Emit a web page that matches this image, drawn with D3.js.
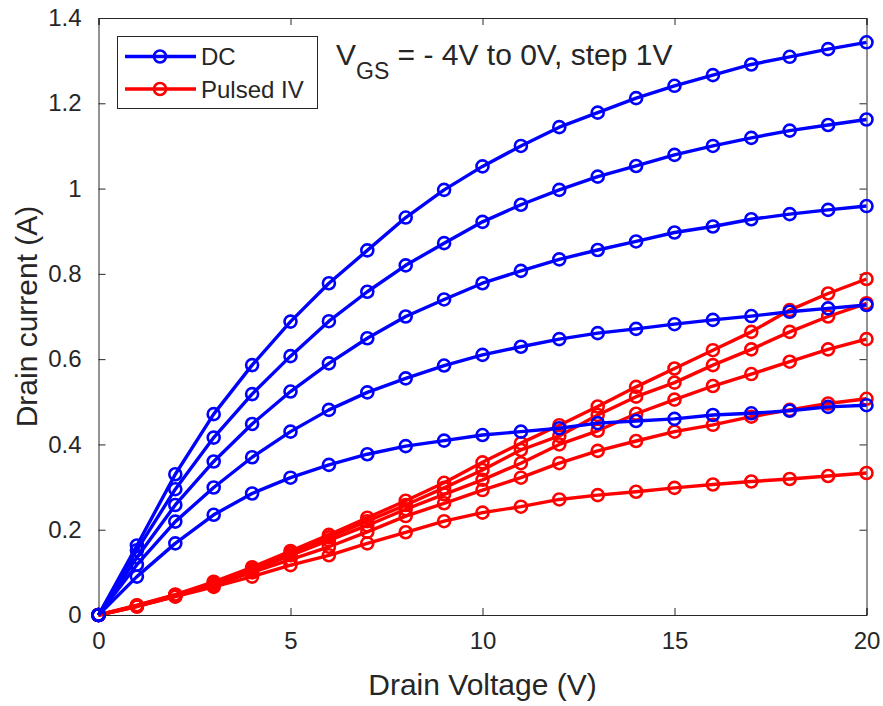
<!DOCTYPE html>
<html>
<head>
<meta charset="utf-8">
<script src="https://cdn.jsdelivr.net/npm/d3@7"></script>
<style>
  html, body { margin: 0; padding: 0; background: #fff; }
  svg { display: block; font-family: "Liberation Sans", Arial, Helvetica, sans-serif; }
</style>
</head>
<body>
<svg id="chart" width="883" height="706"></svg>
<script>
// ---- data ----
const drainVoltage = [0,1,2,3,4,5,6,7,8,9,10,11,12,13,14,15,16,17,18,19,20];

const dcVgs0  = [0,0.163,0.330,0.471,0.586,0.688,0.778,0.855,0.932,0.997,1.052,1.100,1.144,1.178,1.212,1.241,1.266,1.291,1.309,1.327,1.343];
const dcVgsM1 = [0,0.152,0.295,0.416,0.518,0.607,0.689,0.758,0.820,0.872,0.922,0.962,0.997,1.028,1.053,1.079,1.100,1.119,1.136,1.149,1.162];
const dcVgsM2 = [0,0.135,0.258,0.360,0.448,0.524,0.590,0.649,0.700,0.740,0.778,0.807,0.834,0.856,0.876,0.897,0.911,0.928,0.940,0.950,0.959];
const dcVgsM3 = [0,0.118,0.219,0.299,0.370,0.430,0.481,0.522,0.555,0.585,0.610,0.629,0.647,0.661,0.671,0.682,0.692,0.701,0.711,0.719,0.727];
const dcVgsM4 = [0,0.090,0.168,0.235,0.285,0.322,0.352,0.377,0.396,0.409,0.422,0.430,0.438,0.450,0.455,0.460,0.469,0.473,0.479,0.488,0.492];

const pulsedA = [0,0.023,0.048,0.078,0.112,0.150,0.188,0.228,0.268,0.310,0.358,0.403,0.445,0.489,0.535,0.578,0.621,0.664,0.715,0.754,0.788];
const pulsedB = [0,0.022,0.047,0.075,0.108,0.145,0.182,0.220,0.258,0.298,0.340,0.387,0.420,0.469,0.512,0.545,0.586,0.623,0.664,0.700,0.731];
const pulsedC = [0,0.021,0.045,0.072,0.104,0.140,0.175,0.210,0.248,0.283,0.317,0.356,0.400,0.432,0.472,0.505,0.537,0.565,0.594,0.623,0.647];
const pulsedD = [0,0.020,0.044,0.070,0.100,0.130,0.160,0.195,0.232,0.262,0.293,0.322,0.356,0.385,0.408,0.430,0.446,0.465,0.481,0.496,0.507];
const pulsedE = [0,0.020,0.043,0.066,0.090,0.117,0.140,0.168,0.194,0.220,0.240,0.254,0.271,0.281,0.289,0.298,0.306,0.313,0.319,0.326,0.333];

const dcSeries = [dcVgs0, dcVgsM1, dcVgsM2, dcVgsM3, dcVgsM4];
const pulsedSeries = [pulsedA, pulsedB, pulsedC, pulsedD, pulsedE];

const xTicks = [0,5,10,15,20];
const yTicks = [0,0.2,0.4,0.6,0.8,1,1.2,1.4];
const legendLabels = ["DC", "Pulsed IV"];
const xLabel = "Drain Voltage (V)";
const yLabel = "Drain current (A)";

// ---- layout ----
const L = 98.5, R = 866.5, T = 18, B = 615;
const axisColor = "#262626";
const blue = "#0000ff", red = "#ff0000";

const svg = d3.select("#chart");
const x = d3.scaleLinear().domain([0,20]).range([L,R]);
const y = d3.scaleLinear().domain([0,1.4]).range([B,T]);

// axes (MATLAB style box, inward ticks)
const tickLen = 7;
const fmtY = d => d === 0 ? "0" : (Number.isInteger(d) ? String(d) : d.toFixed(1));

const gx = svg.append("g").attr("transform", `translate(0,${B})`)
  .call(d3.axisBottom(x).tickValues(xTicks).tickSize(-tickLen).tickPadding(10 + tickLen).tickFormat(d3.format("d")));
const gxt = svg.append("g").attr("transform", `translate(0,${T})`)
  .call(d3.axisTop(x).tickValues(xTicks).tickSize(-tickLen).tickFormat(""));
const gy = svg.append("g").attr("transform", `translate(${L},0)`)
  .call(d3.axisLeft(y).tickValues(yTicks).tickSize(-tickLen).tickPadding(10 + tickLen).tickFormat(fmtY));
const gyr = svg.append("g").attr("transform", `translate(${R},0)`)
  .call(d3.axisRight(y).tickValues(yTicks).tickSize(-tickLen).tickFormat(""));

[gx, gxt, gy, gyr].forEach(g => {
  g.selectAll(".domain").attr("stroke", axisColor).attr("stroke-width", 1);
  g.selectAll(".tick line").attr("stroke", axisColor).attr("stroke-width", 1);
  g.selectAll(".tick text").attr("fill", axisColor)
    .style("font-family", '"Liberation Sans", Arial, sans-serif').style("font-size", "24px");
});

// axis labels
svg.append("text").attr("x", (L+R)/2).attr("y", 695).attr("text-anchor", "middle")
  .attr("fill", axisColor).style("font-size", "30px").text(xLabel);
svg.append("text").attr("transform", `translate(37,${(T+B)/2}) rotate(-90)`).attr("text-anchor", "middle")
  .attr("fill", axisColor).style("font-size", "30px").text(yLabel);

// series
const line = d3.line().x((d,i) => x(drainVoltage[i])).y(d => y(d));
const plotG = svg.append("g");

function drawSeries(data, color) {
  const g = plotG.append("g");
  g.append("path").datum(data).attr("d", line).attr("fill", "none")
    .attr("stroke", color).attr("stroke-width", 3.4).attr("stroke-linejoin", "round");
  g.selectAll("circle").data(data).join("circle")
    .attr("cx", (d,i) => x(drainVoltage[i])).attr("cy", d => y(d)).attr("r", 6)
    .attr("fill", "none").attr("stroke", color).attr("stroke-width", 2.6);
}
pulsedSeries.forEach(s => drawSeries(s, red));
dcSeries.forEach(s => drawSeries(s, blue));

// legend
const lg = svg.append("g");
lg.append("rect").attr("x", 117.5).attr("y", 36.5).attr("width", 200).attr("height", 72)
  .attr("fill", "#fff").attr("stroke", axisColor).attr("stroke-width", 1);
[[legendLabels[0], blue, 56.5], [legendLabels[1], red, 89]].forEach(([lab, col, yy]) => {
  lg.append("line").attr("x1", 125).attr("x2", 196).attr("y1", yy).attr("y2", yy)
    .attr("stroke", col).attr("stroke-width", 3.4);
  lg.append("circle").attr("cx", 160).attr("cy", yy).attr("r", 6)
    .attr("fill", "none").attr("stroke", col).attr("stroke-width", 2.6);
  lg.append("text").attr("x", 201).attr("y", yy + 8.5).attr("fill", axisColor)
    .style("font-size", "24px").text(lab);
});

// annotation
const ann = svg.append("text").attr("x", 336).attr("y", 65).attr("fill", axisColor).style("font-size", "30px");
ann.append("tspan").text("V");
ann.append("tspan").attr("dy", 14).style("font-size", "23px").text("GS");
ann.append("tspan").attr("dy", -14).text(" = - 4V to 0V, step 1V");
</script>
</body>
</html>
